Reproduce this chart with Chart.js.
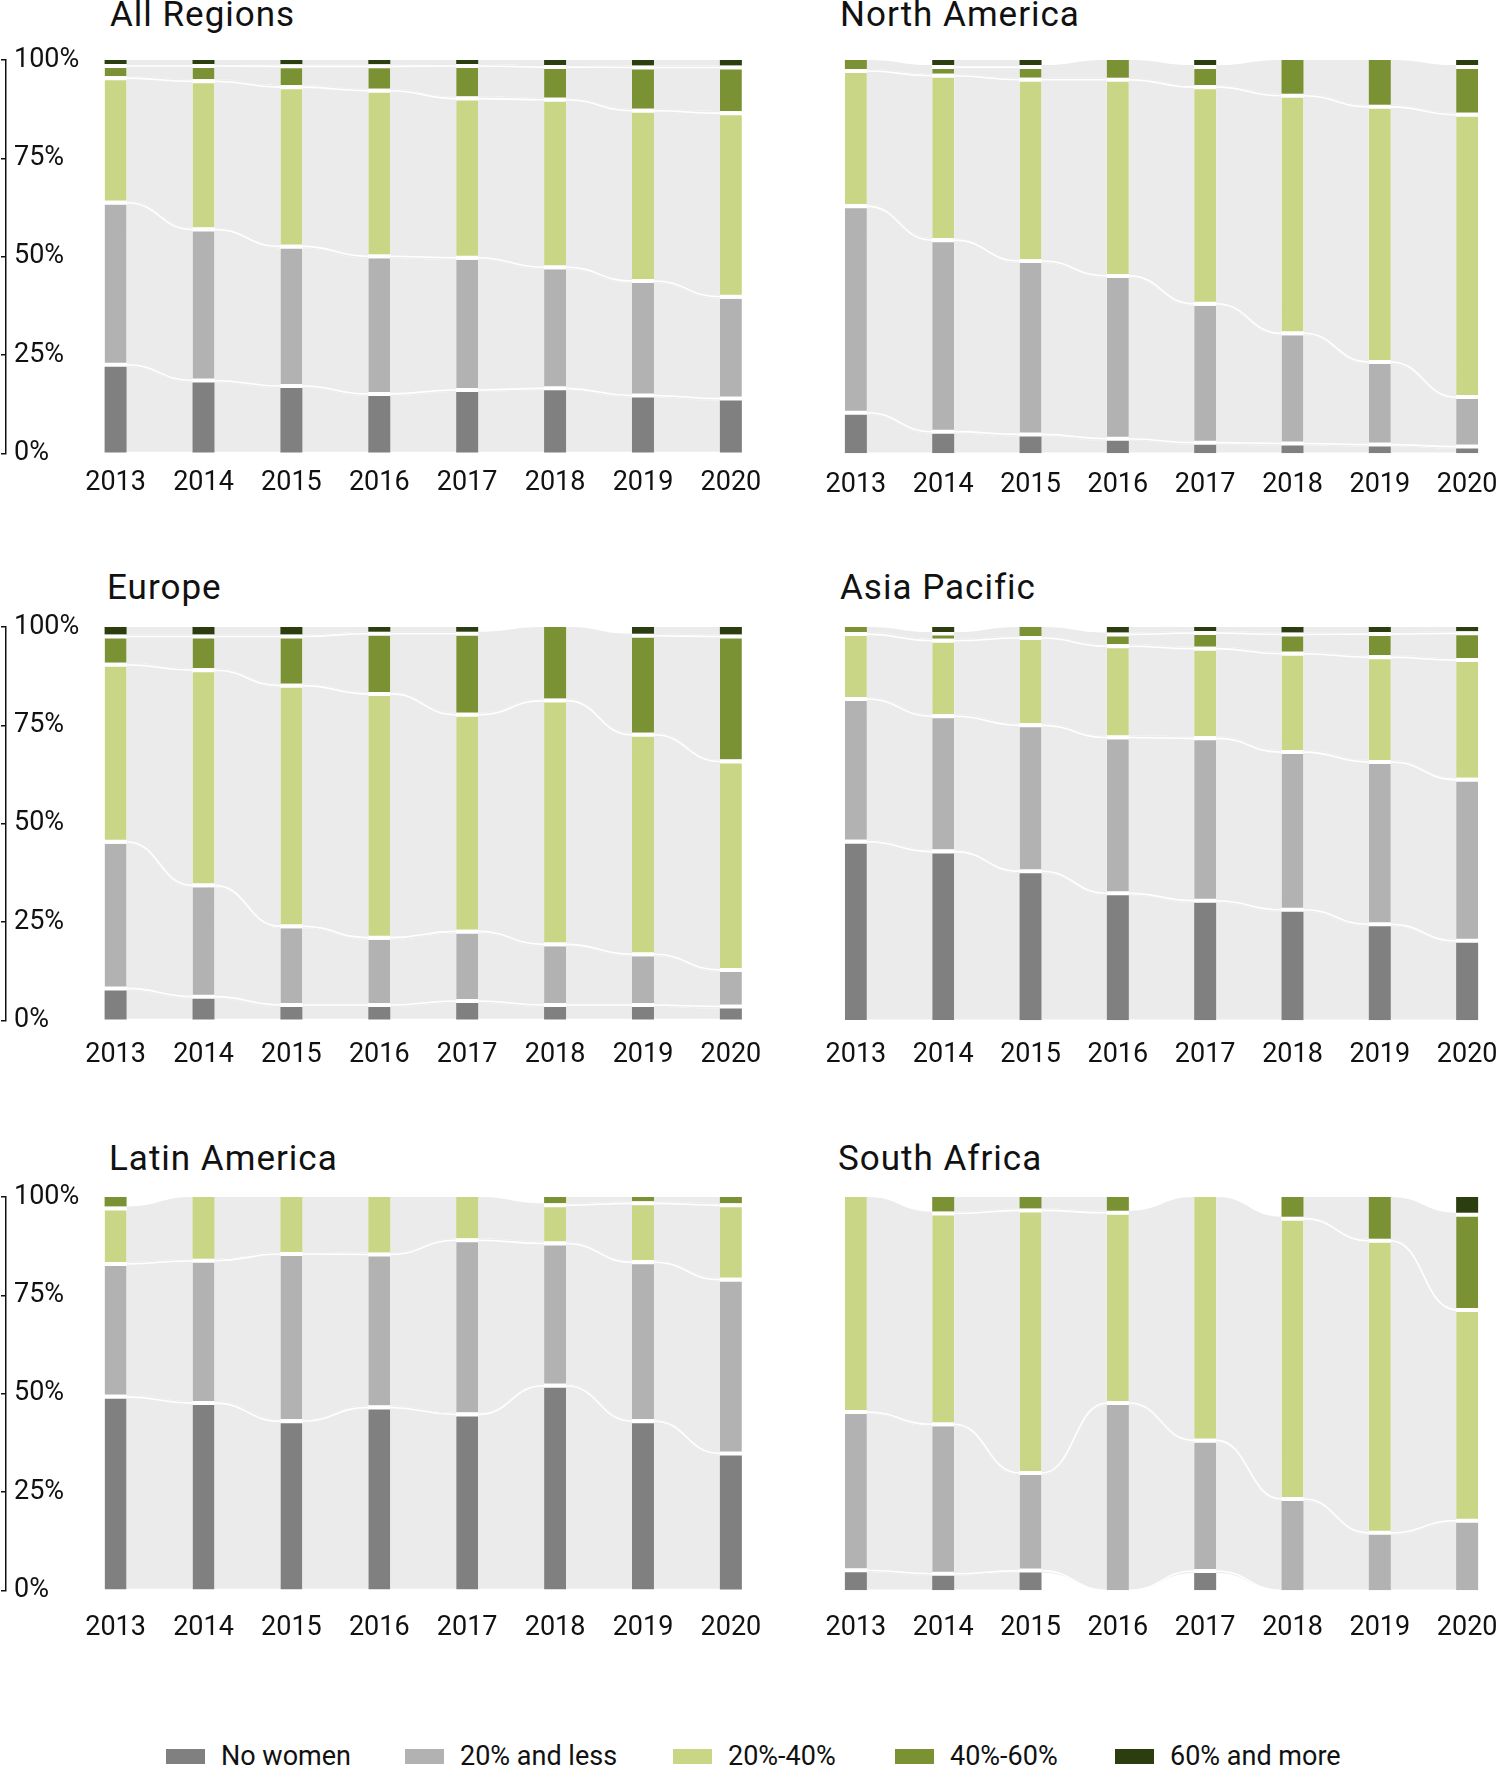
<!DOCTYPE html>
<html>
<head>
<meta charset="utf-8">
<title>Women on boards by region</title>
<script src="https://cdn.jsdelivr.net/npm/chart.js@4.4.1/dist/chart.umd.min.js"></script>
<style>
  body { margin: 0; width: 1500px; height: 1769px; overflow: hidden; background: #fff; position: relative; font-family: Roboto, sans-serif; }
  canvas { position: absolute; }
  .title { position: absolute; font-size: 35px; line-height: 35px; color: #111; white-space: nowrap; letter-spacing: 1px; }
  .item { position: absolute; top: 1740px; height: 32px; display: flex; align-items: center; font-size: 27px; color: #111; white-space: nowrap; }
  .item span { display: inline-block; width: 39px; height: 15px; margin-right: 16px; }
</style>
</head>
<body>
<script>
const years = [2013, 2014, 2015, 2016, 2017, 2018, 2019, 2020];
const groups = ['No women', '20% and less', '20%-40%', '40%-60%', '60% and more'];
const colors = ['#808080', '#b2b2b2', '#c8d686', '#7b9234', '#2c3d10'];
const yTicks = [0, 25, 50, 75, 100];

// All Regions
const allNone = [22.0, 18.0, 16.6, 14.6, 15.6, 16.0, 14.2, 13.4];
const allLow  = [42.2, 39.4, 35.5, 35.0, 33.6, 30.8, 29.1, 25.9];
const allMid  = [31.7, 37.7, 41.5, 43.1, 41.5, 43.6, 44.3, 47.7];
const allHigh = [3.1, 3.9, 5.3, 6.2, 8.3, 8.3, 11.0, 11.6];
const allTop  = [1.0, 1.0, 1.1, 1.1, 1.0, 1.3, 1.4, 1.4];

// North America
const naNone = [9.8, 5.0, 4.3, 3.2, 2.2, 2.0, 1.7, 1.2];
const naLow  = [53.5, 49.7, 44.1, 41.4, 35.3, 28.0, 21.0, 12.6];
const naMid  = [34.4, 41.8, 47.1, 50.9, 56.1, 61.4, 65.9, 72.8];
const naHigh = [2.3, 2.2, 3.2, 4.5, 5.1, 8.6, 11.4, 12.1];
const naTop  = [0, 1.3, 1.3, 0, 1.3, 0, 0, 1.3];

// Europe
const euNone = [7.6, 5.5, 3.4, 3.4, 4.4, 3.4, 3.4, 3.0];
const euLow  = [37.3, 28.3, 20.0, 17.1, 17.7, 15.4, 12.9, 9.3];
const euMid  = [46.0, 55.7, 62.2, 63.0, 56.1, 63.0, 56.8, 54.0];
const euHigh = [7.2, 8.6, 12.5, 15.3, 20.6, 18.2, 25.2, 31.8];
const euTop  = [1.9, 1.9, 1.9, 1.2, 1.2, 0, 1.7, 1.9];

// Asia Pacific
const apNone = [45.9, 43.4, 37.4, 31.8, 29.9, 27.6, 23.9, 19.7];
const apLow  = [36.3, 34.4, 38.1, 40.6, 42.3, 41.1, 42.3, 42.0];
const apMid  = [16.5, 19.2, 22.2, 23.2, 22.8, 25.0, 26.6, 30.4];
const apHigh = [1.3, 1.7, 2.3, 3.0, 4.0, 4.9, 5.9, 6.8];
const apTop  = [0, 1.3, 0, 1.4, 1.0, 1.4, 1.3, 1.1];

// Latin America
const laNone = [49.7, 48.1, 43.5, 47.0, 45.2, 52.5, 43.5, 34.3];
const laLow  = [33.8, 36.2, 42.5, 38.9, 44.3, 36.2, 40.4, 45.2];
const laMid  = [14.1, 15.7, 14.0, 14.1, 10.5, 9.7, 15.0, 18.9];
const laHigh = [2.4, 0, 0, 0, 0, 1.6, 1.1, 1.6];
const laTop  = [0, 0, 0, 0, 0, 0, 0, 0];

// South Africa
const saNone = [4.6, 3.7, 4.5, 0, 4.4, 0, 0, 0];
const saLow  = [40.2, 38.0, 24.8, 47.1, 33.2, 22.7, 14.1, 17.2];
const saMid  = [55.2, 54.6, 67.8, 49.4, 62.4, 72.3, 75.3, 54.6];
const saHigh = [0, 3.7, 2.9, 3.5, 0, 5.0, 10.6, 24.2];
const saTop  = [0, 0, 0, 0, 0, 0, 0, 4.0];

const panels = [
  { title: 'All Regions',   series: [allNone, allLow, allMid, allHigh, allTop], left: 0,   top: 15,   pad: 6,    axis: true,  tx: 110, ty: -3 },
  { title: 'North America', series: [naNone, naLow, naMid, naHigh, naTop],      left: 736, top: 15,   pad: 8,    axis: false, tx: 840, ty: -3 },
  { title: 'Europe',        series: [euNone, euLow, euMid, euHigh, euTop],      left: 0,   top: 582,  pad: 10.7, axis: true,  tx: 107, ty: 570 },
  { title: 'Asia Pacific',  series: [apNone, apLow, apMid, apHigh, apTop],      left: 736, top: 582,  pad: 10.7, axis: false, tx: 840, ty: 570 },
  { title: 'Latin America', series: [laNone, laLow, laMid, laHigh, laTop],      left: 0,   top: 1152, pad: 13.9, axis: true,  tx: 109, ty: 1141 },
  { title: 'South Africa',  series: [saNone, saLow, saMid, saHigh, saTop],      left: 736, top: 1152, pad: 13.9, axis: false, tx: 838, ty: 1141 }
];

const GAP = 4;

// white gap between two stacked segments: taken out of the larger of the two
function gaps(chart, d, i) {
  const v = j => chart.data.datasets[j].data[i] || 0;
  const n = chart.data.datasets.length;
  const res = { top: 0, bottom: 0, below: 0 };
  if (!v(d)) return res;
  let lo = -1, hi = -1;
  for (let j = d - 1; j >= 0; j--) if (v(j) > 0) { lo = j; break; }
  for (let j = d + 1; j < n; j++) if (v(j) > 0) { hi = j; break; }
  if (lo >= 0) {
    if (v(d) >= v(lo)) { res.bottom = GAP; res.below = -GAP / 2; }
    else res.below = GAP / 2;
  }
  if (hi >= 0 && v(hi) < v(d)) res.top = GAP;
  return res;
}

// grey ribbons joining the same category from one year to the next
const flows = {
  id: 'flows',
  beforeDatasetsDraw(chart) {
    const ctx = chart.ctx, n = chart.data.labels.length;
    const seams = [];
    ctx.save();
    ctx.fillStyle = '#ebebeb';
    chart.data.datasets.forEach((ds, d) => {
      const bars = chart.getDatasetMeta(d).data;
      for (let i = 0; i < n - 1; i++) {
        if (!ds.data[i] || !ds.data[i + 1]) continue;
        const a = bars[i].getProps(['x', 'y', 'base', 'width'], true);
        const b = bars[i + 1].getProps(['x', 'y', 'base', 'width'], true);
        const x1 = a.x + a.width / 2, x2 = b.x - b.width / 2, mx = (x1 + x2) / 2;
        ctx.beginPath();
        ctx.moveTo(x1, a.y);
        ctx.bezierCurveTo(mx, a.y, mx, b.y, x2, b.y);
        ctx.lineTo(x2, b.base);
        ctx.bezierCurveTo(mx, b.base, mx, a.base, x1, a.base);
        ctx.closePath();
        ctx.fill();
        seams.push([x1, a.base + gaps(chart, d, i).below, mx, x2, b.base + gaps(chart, d, i + 1).below]);
      }
    });
    ctx.strokeStyle = '#fff';
    ctx.lineWidth = 1.6;
    seams.forEach(([x1, y1, mx, x2, y2]) => {
      ctx.beginPath();
      ctx.moveTo(x1, y1);
      ctx.bezierCurveTo(mx, y1, mx, y2, x2, y2);
      ctx.stroke();
    });
    ctx.restore();
  }
};

panels.forEach(p => {
  const t = document.createElement('div');
  t.className = 'title';
  t.textContent = p.title;
  t.style.left = p.tx + 'px';
  t.style.top = p.ty + 'px';
  document.body.appendChild(t);

  const cv = document.createElement('canvas');
  cv.width = 770;
  cv.height = 498;
  cv.style.left = p.left + 'px';
  cv.style.top = p.top + 'px';
  document.body.appendChild(cv);

  new Chart(cv, {
    type: 'bar',
    data: {
      labels: years,
      datasets: groups.map((g, k) => ({
        label: g,
        data: p.series[k],
        backgroundColor: colors[k],
        borderColor: '#fff',
        borderSkipped: false,
        borderWidth: c => {
          const g2 = gaps(c.chart, c.datasetIndex, c.dataIndex);
          return { top: g2.top, left: 0, right: 0, bottom: g2.bottom };
        },
        inflateAmount: 0,
        barThickness: 22
      }))
    },
    options: {
      responsive: false,
      animation: false,
      events: [],
      layout: { padding: { top: 45, left: p.axis ? 1 : 6, right: 0, bottom: 0 } },
      plugins: { legend: { display: false }, tooltip: { enabled: false } },
      scales: {
        x: {
          type: 'linear',
          offset: false,
          bounds: 'data',
          min: 2011.7531,
          max: 2020.4451,
          stacked: true,
          grid: { display: false, offset: false },
          border: { display: false },
          afterBuildTicks: s => { s.ticks = years.map(v => ({ value: v })); },
          afterFit: s => { s.height = 59.7; s.paddingLeft = 0; s.paddingRight = 0; },
          ticks: {
            padding: p.pad,
            maxRotation: 0,
            autoSkip: false,
            color: '#111',
            font: { family: 'Roboto', size: 27 },
            callback: v => String(v)
          }
        },
        y: {
          display: p.axis,
          stacked: true,
          min: 0,
          max: 100,
          afterBuildTicks: s => { s.ticks = yTicks.map(v => ({ value: v })); },
          afterFit: s => { s.width = 5; s.paddingTop = 0; s.paddingBottom = 0; },
          grid: { drawOnChartArea: false, drawTicks: true, tickLength: 5, color: '#111', lineWidth: 1.5 },
          border: { display: true, color: '#111', width: 1.5 },
          ticks: {
            mirror: true,
            padding: 8,
            color: '#111',
            font: { family: 'Roboto', size: 27 },
            callback: v => v + '%'
          }
        }
      }
    },
    plugins: [flows]
  });
});

// legend
const legendLeft = [166, 405, 673, 895, 1115];
groups.forEach((g, k) => {
  const it = document.createElement('div');
  it.className = 'item';
  it.style.left = legendLeft[k] + 'px';
  const sw = document.createElement('span');
  sw.style.background = colors[k];
  it.appendChild(sw);
  it.appendChild(document.createTextNode(g));
  document.body.appendChild(it);
});
</script>
</body>
</html>
